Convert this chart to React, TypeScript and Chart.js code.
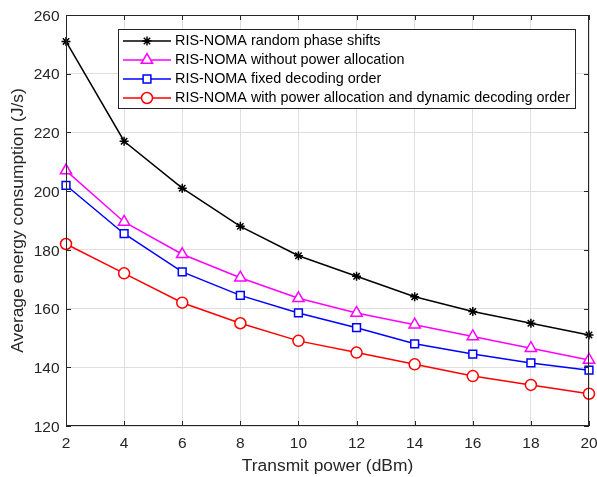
import React, { useEffect, useRef } from 'react';
import { Chart, registerables } from 'chart.js';

Chart.register(...registerables);

// ---- data ----
const powerDbm = [2, 4, 6, 8, 10, 12, 14, 16, 18, 20];
const randomPhase = [251, 217, 201, 188, 178, 171, 164, 159, 155, 151];
const withoutPowerAlloc = [207, 189.5, 178.5, 170.5, 163.5, 158.5, 154.5, 150.5, 146.5, 142.5];
const fixedDecoding = [202, 185.5, 172.5, 164.5, 158.5, 153.5, 148, 144.5, 141.5, 139];
const proposed = [182, 172, 162, 155, 149, 145, 141, 137, 134, 131];

const seriesNames = [
  'RIS-NOMA random phase shifts',
  'RIS-NOMA without power allocation',
  'RIS-NOMA fixed decoding order',
  'RIS-NOMA with power allocation and dynamic decoding order',
];

const xTickValues = [2, 4, 6, 8, 10, 12, 14, 16, 18, 20];
const yTickValues = [120, 140, 160, 180, 200, 220, 240, 260];
const xTitle = 'Transmit power (dBm)';
const yTitle = 'Average energy consumption (J/s)';

// ---- styles ----
const FONT = '"Liberation Sans", Arial, Helvetica, sans-serif';
const AXIS = '#262626';
const GRID = '#dfdfdf';
const colors = ['#000000', '#ff00ff', '#0000ff', '#ff0000'];
const markers = ['star', 'triangle', 'rect', 'circle'];
const radii = [4.5, 6.5, 5.5, 5.5];

function drawMarker(ctx: CanvasRenderingContext2D, style: string, x: number, y: number, r: number) {
  ctx.beginPath();
  if (style === 'star') {
    ctx.moveTo(x - r, y); ctx.lineTo(x + r, y);
    ctx.moveTo(x, y - r); ctx.lineTo(x, y + r);
    const d = r * Math.SQRT1_2;
    ctx.moveTo(x - d, y - d); ctx.lineTo(x + d, y + d);
    ctx.moveTo(x - d, y + d); ctx.lineTo(x + d, y - d);
    ctx.stroke();
  } else if (style === 'triangle') {
    let a = 0;
    ctx.moveTo(x + Math.sin(a) * r, y - Math.cos(a) * r);
    a += (2 * Math.PI) / 3;
    ctx.lineTo(x + Math.sin(a) * r, y - Math.cos(a) * r);
    a += (2 * Math.PI) / 3;
    ctx.lineTo(x + Math.sin(a) * r, y - Math.cos(a) * r);
    ctx.closePath();
    ctx.fill(); ctx.stroke();
  } else if (style === 'rect') {
    const s = r * Math.SQRT1_2;
    ctx.rect(x - s, y - s, 2 * s, 2 * s);
    ctx.fill(); ctx.stroke();
  } else {
    ctx.arc(x, y, r, 0, Math.PI * 2);
    ctx.fill(); ctx.stroke();
  }
}

const decorPlugin = {
  id: 'matlabDecor',
  afterDraw(chart: any) {
    const { ctx, chartArea } = chart;
    const { left, right, top, bottom } = chartArea;
    const xs = chart.scales.x;
    const ys = chart.scales.y;
    ctx.save();

    // axes box
    ctx.strokeStyle = AXIS;
    ctx.lineWidth = 1;
    ctx.strokeRect(left + 0.5, top + 0.5, right - left - 1, bottom - top - 1);

    // inward ticks
    ctx.beginPath();
    xTickValues.forEach((v) => {
      const px = Math.round(xs.getPixelForValue(v)) + 0.5;
      ctx.moveTo(px, bottom); ctx.lineTo(px, bottom - 5);
      ctx.moveTo(px, top); ctx.lineTo(px, top + 5);
    });
    yTickValues.forEach((v) => {
      const py = Math.round(ys.getPixelForValue(v)) + 0.5;
      ctx.moveTo(left, py); ctx.lineTo(left + 5, py);
      ctx.moveTo(right, py); ctx.lineTo(right - 5, py);
    });
    ctx.stroke();

    // tick labels
    ctx.fillStyle = AXIS;
    ctx.font = `15.5px ${FONT}`;
    ctx.textAlign = 'right';
    ctx.textBaseline = 'middle';
    yTickValues.forEach((v) => {
      ctx.fillText(String(v), left - 6.5, ys.getPixelForValue(v) + 1.5);
    });
    ctx.textAlign = 'center';
    xTickValues.forEach((v) => {
      ctx.fillText(String(v), xs.getPixelForValue(v), bottom + 18);
    });

    // axis titles
    ctx.font = `17.4px ${FONT}`;
    ctx.fillText(xTitle, (left + right) / 2, bottom + 40);
    ctx.save();
    ctx.translate(18, (top + bottom) / 2);
    ctx.rotate(-Math.PI / 2);
    ctx.fillText(yTitle, 0, 0);
    ctx.restore();

    // legend
    const lx = 118.5, ly = 29.5, lw = 457, lh = 79;
    ctx.fillStyle = '#ffffff';
    ctx.fillRect(lx, ly, lw, lh);
    ctx.strokeStyle = AXIS;
    ctx.lineWidth = 1;
    ctx.strokeRect(lx, ly, lw, lh);
    ctx.font = `14.4px ${FONT}`;
    ctx.textAlign = 'left';
    ctx.textBaseline = 'middle';
    seriesNames.forEach((name, i) => {
      const cy = 41 + i * 19;
      ctx.strokeStyle = colors[i];
      ctx.fillStyle = '#ffffff';
      ctx.lineWidth = 1.5;
      ctx.beginPath();
      ctx.moveTo(123, cy); ctx.lineTo(171, cy);
      ctx.stroke();
      drawMarker(ctx, markers[i], 147, cy, radii[i]);
      ctx.fillStyle = '#000000';
      ctx.fillText(name, 175, cy + 0.5);
    });

    ctx.restore();
  },
};

export default function App() {
  const ref = useRef<HTMLCanvasElement | null>(null);
  useEffect(() => {
    if (!ref.current) return;
    const seriesData = [randomPhase, withoutPowerAlloc, fixedDecoding, proposed];
    const chart = new Chart(ref.current, {
      type: 'line',
      data: {
        datasets: seriesData.map((vals, i) => ({
          label: seriesNames[i],
          data: powerDbm.map((p, j) => ({ x: p, y: vals[j] })),
          borderColor: colors[i],
          backgroundColor: '#ffffff',
          borderWidth: 1.5,
          pointStyle: markers[i] as any,
          pointRadius: radii[i],
          pointBorderWidth: 1.5,
          pointBorderColor: colors[i],
          pointBackgroundColor: i === 0 ? colors[i] : '#ffffff',
          tension: 0,
          clip: false as any,
        })),
      },
      options: {
        animation: false,
        responsive: false,
        maintainAspectRatio: false,
        layout: { padding: { top: 15, right: 8, left: 0, bottom: 0 } },
        plugins: { legend: { display: false }, tooltip: { enabled: false } },
        scales: {
          x: {
            type: 'linear',
            min: 2,
            max: 20,
            afterFit: (s: any) => { s.height = 51; },
            afterBuildTicks: (s: any) => { s.ticks = xTickValues.map((v) => ({ value: v })); },
            ticks: { display: false },
            grid: { color: GRID, lineWidth: 1, drawTicks: false },
            border: { display: false },
          },
          y: {
            type: 'linear',
            min: 120,
            max: 260,
            afterFit: (s: any) => { s.width = 66; },
            afterBuildTicks: (s: any) => { s.ticks = yTickValues.map((v) => ({ value: v })); },
            ticks: { display: false },
            grid: { color: GRID, lineWidth: 1, drawTicks: false },
            border: { display: false },
          },
        },
      },
      plugins: [decorPlugin],
    });
    return () => chart.destroy();
  }, []);
  return (
    <div style={{ position: 'absolute', left: 0, top: 0, width: 597, height: 477, background: '#ffffff' }}>
      <canvas ref={ref} width={597} height={477} style={{ width: 597, height: 477, display: 'block' }} />
    </div>
  );
}
